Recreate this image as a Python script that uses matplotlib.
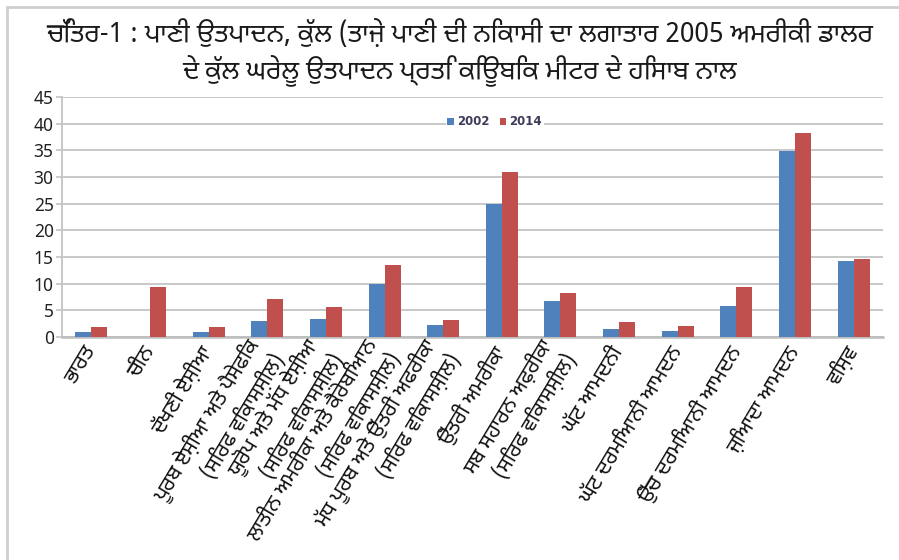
import matplotlib
matplotlib.use("Agg")
import matplotlib.pyplot as plt
from matplotlib.patches import Rectangle
import numpy as np

GURMUKHI = ["Noto Sans Gurmukhi", "Mukta Mahee", "DejaVu Sans"]

TITLE = ("ਚਿੱਤਰ-1 : ਪਾਣੀ ਉਤਪਾਦਨ, ਕੁੱਲ (ਤਾਜ਼ੇ ਪਾਣੀ ਦੀ ਨਿਕਾਸੀ ਦਾ ਲਗਾਤਾਰ 2005 ਅਮਰੀਕੀ ਡਾਲਰ\n"
         "ਦੇ ਕੁੱਲ ਘਰੇਲੂ ਉਤਪਾਦਨ ਪ੍ਰਤਿ ਕਿਊਬਿਕ ਮੀਟਰ ਦੇ ਹਿਸਾਬ ਨਾਲ")

regions = [
    "ਭਾਰਤ",
    "ਚੀਨ",
    "ਦੱਖਣੀ ਏਸ਼ੀਆ",
    "ਪੂਰਬ ਏਸ਼ੀਆ ਅਤੇ ਪੈਸੇਫਿਕ\n(ਸਿਰਫ ਵਿਕਾਸਸ਼ੀਲ)",
    "ਯੂਰੋਪ ਅਤੇ ਮੱਧ ਏਸ਼ੀਆ\n(ਸਿਰਫ ਵਿਕਾਸਸ਼ੀਲ)",
    "ਲਾਤੀਨ ਅਮਰੀਕਾ ਅਤੇ ਕੈਰੇਬਿਆਨ\n(ਸਿਰਫ ਵਿਕਾਸਸ਼ੀਲ)",
    "ਮੱਧ ਪੂਰਬ ਅਤੇ ਉੱਤਰੀ ਅਫਰੀਕਾ\n(ਸਿਰਫ ਵਿਕਾਸਸ਼ੀਲ)",
    "ਉੱਤਰੀ ਅਮਰੀਕਾ",
    "ਸਬ ਸਹਾਰਨ ਅਫ਼ਰੀਕਾ\n(ਸਿਰਫ ਵਿਕਾਸਸ਼ੀਲ)",
    "ਘੱਟ ਆਮਦਨੀ",
    "ਘੱਟ ਦਰਮਿਆਨੀ ਆਮਦਨ",
    "ਉੱਚ ਦਰਮਿਆਨੀ ਆਮਦਨ",
    "ਜ਼ਿਆਦਾ ਆਮਦਨ",
    "ਵਿਸ਼ਵ",
]
vals_2002 = [1.0, 0.0, 1.0, 3.0, 3.3, 10.0, 2.2, 25.0, 6.7, 1.5, 1.1, 5.9, 34.9, 14.2]
vals_2014 = [1.9, 9.3, 1.9, 7.2, 5.6, 13.5, 3.2, 30.9, 8.3, 2.9, 2.1, 9.3, 38.3, 14.7]
years = ["2002", "2014"]
yticks = [0, 5, 10, 15, 20, 25, 30, 35, 40, 45]

BLUE = "#4f81bd"
RED = "#c0504d"
GRID = "#c4c4c4"

fig = plt.figure(figsize=(8.99, 5.6), dpi=100)
# light frame around the page
fig.patches.append(Rectangle((7 / 899, -0.05), 1.0, 1.05 - 7 / 560, transform=fig.transFigure,
                             fill=False, edgecolor="#cfcfcf", linewidth=2.0))

ax = fig.add_axes([62 / 899, 1 - 337 / 560, 821 / 899, 240 / 560])

x = np.arange(len(regions))
w = 0.273
ax.bar(x - w / 2, vals_2002, width=w, color=BLUE, label=years[0], zorder=3)
ax.bar(x + w / 2, vals_2014, width=w, color=RED, label=years[1], zorder=3)

ax.set_xlim(-0.5, len(regions) - 0.5)
ax.set_ylim(0, 45)
ax.set_yticks(yticks)
ax.set_yticklabels([str(v) for v in yticks], fontsize=12.5, family=["Noto Sans", "DejaVu Sans"], color="#222222")
ax.yaxis.grid(True, color=GRID, linewidth=1.3, zorder=0)
ax.tick_params(axis="y", length=4, width=1.2, color=GRID, pad=2)
ax.tick_params(axis="x", length=0, pad=8)
for side in ("top", "right"):
    ax.spines[side].set_visible(False)
ax.spines["left"].set_color(GRID)
ax.spines["left"].set_linewidth(1.3)
ax.spines["bottom"].set_color("#bdbdbd")
ax.spines["bottom"].set_linewidth(1.8)

ax.set_xticks(x)
ax.set_xticklabels(regions, rotation=59, ha="right", va="center", rotation_mode="anchor",
                   fontsize=15, family=GURMUKHI, color="#111111", linespacing=1.3)

leg = ax.legend(loc="center", bbox_to_anchor=(0.527, 0.896), ncol=2, frameon=True,
                facecolor="white", edgecolor="none", framealpha=1, fontsize=8.5,
                handlelength=0.55, handleheight=0.55, handletextpad=0.25, columnspacing=0.9,
                borderpad=0.15)
for t in leg.get_texts():
    t.set_color("#3c3c5a")
    t.set_fontweight("bold")

fig.text(460 / 899, 1 - 53 / 560, TITLE, ha="center", va="center", fontsize=19,
         family=GURMUKHI, color="#1a1a1a", linespacing=1.2)

fig.savefig("out.png", dpi=100)
